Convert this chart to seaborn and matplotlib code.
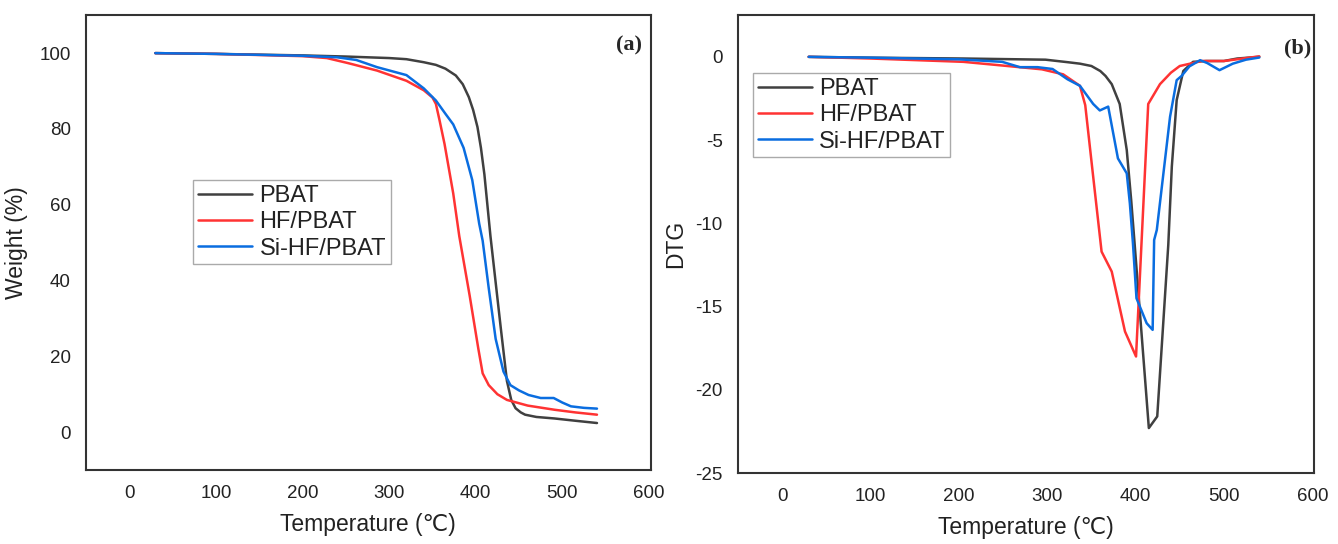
import numpy as np
import pandas as pd
import matplotlib
matplotlib.use("Agg")
import matplotlib.pyplot as plt
import seaborn as sns

# ---------------- data ----------------
series_names = ["PBAT", "HF/PBAT", "Si-HF/PBAT"]
series_colors = ["#404040", "#ff3333", "#0a6de0"]

# (a) TGA weight (%)
tga_pbat_T = [30, 100, 200, 250, 300, 320, 340, 354, 365, 377, 385, 392, 397, 402, 406, 410, 417, 423, 429, 436, 441, 446, 452, 457, 470, 491, 515, 540]
tga_pbat_W = [100, 99.8, 99.4, 99.1, 98.7, 98.4, 97.6, 96.9, 95.9, 94.1, 91.8, 88.4, 85.0, 80.5, 75.0, 68.0, 51.7, 39.5, 27.3, 13.5, 8.5, 6.3, 5.2, 4.6, 4.0, 3.6, 3.0, 2.4]

tga_hf_T = [30, 100, 200, 228, 252, 286, 320, 340, 350, 354, 358, 364, 374, 381, 393, 403, 408, 415, 425, 436, 460, 491, 515, 540]
tga_hf_W = [100, 99.8, 99.2, 98.7, 97.4, 95.4, 92.7, 90.2, 88.3, 86.6, 82.5, 76.0, 63.0, 51.7, 36, 22, 15.5, 12.4, 10.0, 8.5, 7.0, 5.9, 5.2, 4.6]

tga_si_T = [30, 100, 200, 240, 262, 286, 320, 340, 354, 365, 374, 386, 396, 404, 408, 415, 423, 432, 440, 450, 461, 475, 490, 500, 510, 525, 540]
tga_si_W = [100, 99.8, 99.3, 98.9, 98.2, 96.3, 94.2, 90.7, 87.5, 84.0, 81.2, 75.0, 66.5, 55.0, 50.5, 38.0, 24.6, 16.0, 12.4, 11.0, 9.8, 9.0, 9.0, 7.8, 6.8, 6.4, 6.2]

# (b) DTG
dtg_pbat_T = [30, 100, 205, 298, 323, 337, 350, 360, 366, 373, 382, 390, 395, 399, 415, 424.5, 437, 441, 446.5, 454, 465, 480, 500, 515, 540]
dtg_pbat_D = [0, -0.05, -0.1, -0.17, -0.32, -0.41, -0.55, -0.85, -1.15, -1.64, -2.83, -5.6, -8.6, -11.3, -22.3, -21.6, -11.3, -6.6, -2.6, -0.85, -0.3, -0.25, -0.25, -0.1, 0]

dtg_hf_T = [30, 100, 205, 245, 294, 318, 337, 343, 352, 361.5, 373, 388, 400.5, 414.3, 427.6, 440, 450, 475, 500, 540]
dtg_hf_D = [0, -0.1, -0.3, -0.5, -0.75, -1.05, -1.74, -2.9, -7.2, -11.7, -12.9, -16.5, -18.0, -2.83, -1.64, -0.95, -0.55, -0.25, -0.25, 0.03]

dtg_si_T = [30, 100, 200, 249, 269, 289, 306, 323, 337, 352, 359.5, 369, 380, 390, 393.5, 397, 401, 412.5, 419.3, 421, 424, 439, 446.5, 452, 461, 473, 481, 495, 510, 525, 540]
dtg_si_D = [0, -0.05, -0.15, -0.3, -0.62, -0.62, -0.73, -1.35, -1.74, -2.83, -3.22, -2.99, -6.1, -7.0, -8.8, -11.2, -14.5, -16.0, -16.4, -11.0, -10.4, -3.6, -1.4, -1.15, -0.57, -0.2, -0.37, -0.8, -0.41, -0.17, -0.04]

x_ticks = [0, 100, 200, 300, 400, 500, 600]
tga_y_ticks = [0, 20, 40, 60, 80, 100]
dtg_y_ticks = [0, -5, -10, -15, -20, -25]

# ---------------- style ----------------
sns.set_style("white")
plt.rcParams["font.family"] = ["Liberation Sans", "DejaVu Sans"]
plt.rcParams["axes.unicode_minus"] = False

fig = plt.figure(figsize=(13.38, 5.44), dpi=100)
axA = fig.add_axes([0.0643, 0.136, 0.422, 0.836])
axB = fig.add_axes([0.5516, 0.1305, 0.4305, 0.8415])

tga = [(tga_pbat_T, tga_pbat_W), (tga_hf_T, tga_hf_W), (tga_si_T, tga_si_W)]
dtg = [(dtg_pbat_T, dtg_pbat_D), (dtg_hf_T, dtg_hf_D), (dtg_si_T, dtg_si_D)]

for ax, data in ((axA, tga), (axB, dtg)):
    for (T, Y), name, col in zip(data, series_names, series_colors):
        df = pd.DataFrame({"T": T, "Y": Y})
        sns.lineplot(data=df, x="T", y="Y", ax=ax, color=col, lw=1.8,
                     label=name, sort=False, estimator=None)

label_color = "#222222"
for ax in (axA, axB):
    for s in ax.spines.values():
        s.set_color("#333333")
        s.set_linewidth(1.5)
    ax.set_xlim(-50, 602)
    ax.set_xticks(x_ticks)
    ax.tick_params(length=0, labelsize=13.5, colors=label_color, pad=11)
    ax.set_xlabel("Temperature (\u2103)", fontsize=16.5, color=label_color, labelpad=8)

axA.set_ylim(-10, 110)
axA.set_yticks(tga_y_ticks)
axA.set_ylabel("Weight (%)", fontsize=16.5, color=label_color, labelpad=8)

axB.set_ylim(-25, 2.5)
axB.set_yticks(dtg_y_ticks)
axB.set_ylabel("DTG", fontsize=16.5, color=label_color, labelpad=6)

axA.text(0.985, 0.955, "(a)", transform=axA.transAxes, ha="right", va="top",
         fontsize=16, fontweight="bold", family="Liberation Serif")
axB.text(0.995, 0.95, "(b)", transform=axB.transAxes, ha="right", va="top",
         fontsize=16, fontweight="bold", family="Liberation Serif")

for ax, anchor in ((axA, (0.19, 0.637)), (axB, (0.026, 0.873))):
    leg = ax.legend(loc="upper left", bbox_to_anchor=anchor, fontsize=17,
                    handlelength=2.3, handletextpad=0.3, borderpad=0.2,
                    labelspacing=0.18, fancybox=False, framealpha=1,
                    edgecolor="#aaaaaa", borderaxespad=0)
    leg.get_frame().set_linewidth(1.0)
    for t in leg.get_texts():
        t.set_color(label_color)

fig.savefig("out.png", dpi=100)
